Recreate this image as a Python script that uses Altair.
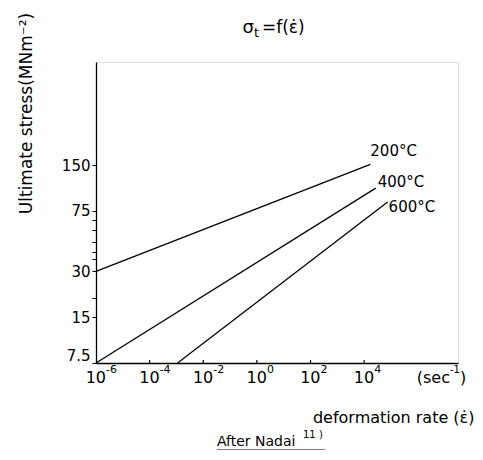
import altair as alt
import pandas as pd

# ---- data ----
series = ["200°C", "400°C", "600°C"]
rate_start = [1e-6, 1e-6, 1.1e-3]
rate_end = [1.7e4, 2.7e4, 7.5e4]
stress_start = [30, 7.5, 7.5]
stress_end = [152, 106, 86]

x_ticks = [1e-6, 1e-4, 1e-2, 1, 1e2, 1e4]
x_tick_exponents = ["-6", "-4", "-2", "0", "2", "4"]
y_ticks = [7.5, 15, 30, 75, 150]
y_minor_ticks = [20, 36, 40, 47, 56, 65]

FONT = "DejaVu Sans"
W, H = 362, 301

rows = []
for s, x0, x1, y0, y1 in zip(series, rate_start, rate_end, stress_start, stress_end):
    rows.append({"series": s, "rate": x0, "stress": y0, "end": False})
    rows.append({"series": s, "rate": x1, "stress": y1, "end": True})
df = pd.DataFrame(rows)

xscale = alt.Scale(type="log", domain=[1e-6, 10 ** 7.5], nice=False)
yscale = alt.Scale(type="log", domain=[7.5, 716], nice=False)

y_label_expr = "indexof([" + ",".join(repr(v) for v in y_ticks) + \
    "], datum.value) >= 0 ? toString(datum.value) : ''"

base = alt.Chart(df)

lines = base.mark_line(color="black", strokeWidth=1.3).encode(
    x=alt.X("rate:Q", scale=xscale, axis=alt.Axis(
        values=x_ticks, labels=False, ticks=False, grid=False,
        domainColor="black", domainWidth=1.3,
        title="deformation rate (ε̇)", titleFont=FONT, titleFontSize=16,
        titleFontWeight="normal", titleColor="black",
        titleX=378, titleY=54, titleAlign="right", titleBaseline="middle")),
    y=alt.Y("stress:Q", scale=yscale, axis=alt.Axis(
        values=y_ticks + y_minor_ticks, labelExpr=y_label_expr, grid=False,
        tickColor="black", tickSize=4, domainColor="black", domainWidth=1.3,
        labelFont=FONT, labelFontSize=15, labelColor="black", labelPadding=2,
        labelFlush=True, labelFlushOffset=0,
        title="Ultimate stress(MNm⁻²)", titleFont=FONT, titleFontSize=17,
        titleFontWeight="normal", titleColor="black",
        titleX=-70, titleY=51, titleAngle=270, titleAlign="center",
        titleBaseline="middle")),
    detail="series:N",
)

# inward tick marks on the x axis
xt = pd.DataFrame({"rate": x_ticks, "exp": x_tick_exponents})
xticks_layer = alt.Chart(xt.iloc[1:]).mark_rule(color="black", strokeWidth=1.2).encode(
    x=alt.X("rate:Q", scale=xscale), y=alt.value(H - 3), y2=alt.value(H))

# x tick labels: "10" with a raised exponent
xlab_base = alt.Chart(xt).mark_text(
    align="right", baseline="alphabetic", dx=10, font=FONT, fontSize=16,
    color="black").encode(
    x=alt.X("rate:Q", scale=xscale), y=alt.value(H + 20), text=alt.value("10"))
xlab_exp = alt.Chart(xt).mark_text(
    align="left", baseline="alphabetic", dx=10, font=FONT, fontSize=11,
    color="black").encode(
    x=alt.X("rate:Q", scale=xscale), y=alt.value(H + 10), text="exp:N")

offsets = {"200°C": (0, -13), "400°C": (2, -6), "600°C": (1, 5)}
label_layers = []
for s in series:
    dx, dy = offsets[s]
    label_layers.append(
        alt.Chart(df[(df.series == s) & (df.end)]).mark_text(
            align="left", baseline="middle", dx=dx, dy=dy, font=FONT,
            fontSize=15, color="black").encode(
            x=alt.X("rate:Q", scale=xscale), y=alt.Y("stress:Q", scale=yscale),
            text="series:N"))

# unit "(sec^-1)"
unit_df = pd.DataFrame({"rate": [10 ** 7.2]})
unit_layers = []
for txt, al, dx, size, yoff in [("(sec", "right", 0, 16, 20), ("-1", "left", 0, 10, 10),
                                 (")", "left", 10, 16, 20)]:
    unit_layers.append(alt.Chart(unit_df).mark_text(
        align=al, baseline="alphabetic", dx=dx, font=FONT, fontSize=size,
        color="black").encode(
        x=alt.X("rate:Q", scale=xscale), y=alt.value(H + yoff), text=alt.value(txt)))

# title  σ_t = f(ε̇)
title_layers = []
for txt, al, xpos, size, ypos in [("σ", "right", 158, 18, -29), ("t", "left", 158, 13, -25),
                                   ("=f(ε̇)", "left", 166, 17, -29)]:
    title_layers.append(alt.Chart(unit_df).mark_text(
        align=al, baseline="alphabetic", font=FONT, fontSize=size, color="black").encode(
        x=alt.value(xpos), y=alt.value(ypos), text=alt.value(txt)))

credit = alt.Chart(unit_df).mark_text(
    font=FONT, fontSize=14, color="black", align="left", baseline="alphabetic").encode(
    x=alt.value(121), y=alt.value(384), text=alt.value("After  Nadai"))
credit_sup = alt.Chart(unit_df).mark_text(
    font=FONT, fontSize=10, color="black", align="left", baseline="alphabetic").encode(
    x=alt.value(207), y=alt.value(376), text=alt.value("11 )"))

underline = alt.Chart(unit_df).mark_rule(color="black", strokeWidth=1).encode(
    x=alt.value(121), x2=alt.value(229), y=alt.value(388))

chart = alt.layer(lines, xticks_layer, xlab_base, xlab_exp, *label_layers, *unit_layers,
                  *title_layers, credit, credit_sup, underline).properties(
    width=W, height=H,
    autosize=alt.AutoSizeParams(type="none"),
    padding={"left": 88, "top": 54, "right": 17, "bottom": 87},
).configure_view(stroke=None).configure(background="white")

chart.save("out.html", embed_options={"renderer": "svg", "actions": False})
